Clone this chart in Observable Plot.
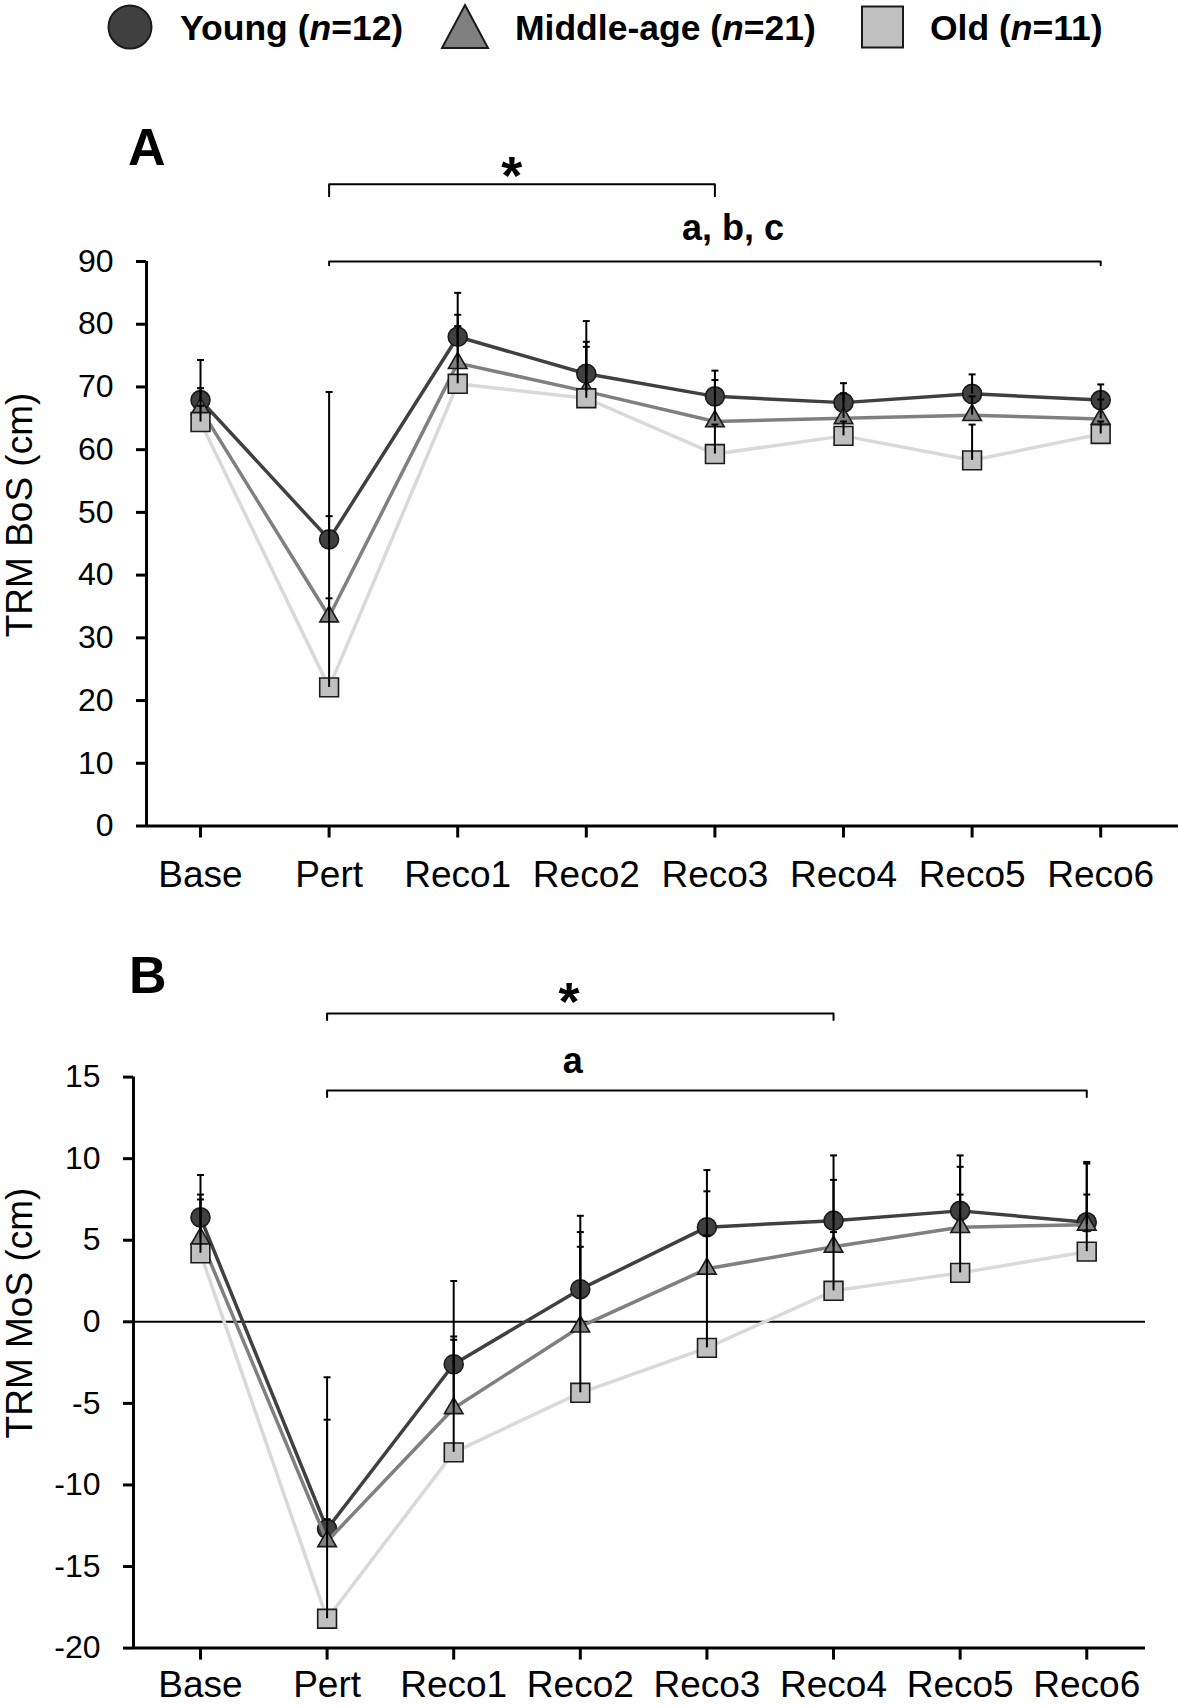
<!DOCTYPE html>
<html>
<head>
<meta charset="utf-8">
<script src="https://cdn.jsdelivr.net/npm/d3@7"></script>
<script src="https://cdn.jsdelivr.net/npm/@observablehq/plot@0.6"></script>
<style>
  body { margin: 0; background: #fff; }
  #wrap { position: relative; width: 1181px; height: 1705px; overflow: hidden; background: #fff;
          font-family: "Liberation Sans", Arial, sans-serif; }
  #wrap > svg { position: absolute; left: 0; }
</style>
</head>
<body>
<div id="wrap"></div>
<script>
// ---------------- DATA ----------------
const categories = ["Base", "Pert", "Reco1", "Reco2", "Reco3", "Reco4", "Reco5", "Reco6"];
const groupNames = ["Young", "Middle-age", "Old"];
const groupN = [12, 21, 11];

// Panel A: TRM BoS (cm) — means and mean + SD (upper error bar end)
const bosYoung    = [67.9, 45.7, 78.0, 72.1, 68.5, 67.5, 68.9, 67.9];
const bosMiddle   = [66.5, 33.4, 73.8, 69.3, 64.5, 65.0, 65.5, 64.9];
const bosOld      = [64.4, 22.1, 70.5, 68.2, 59.3, 62.2, 58.3, 62.5];
const bosYoungUp  = [74.3, 69.2, 85.0, 80.5, 72.6, 70.6, 72.0, 70.4];
const bosMiddleUp = [69.8, 49.4, 81.5, 77.2, 71.1, 69.0, 68.5, 68.0];
const bosOldUp    = [67.0, 36.3, 79.7, 76.4, 64.0, 64.5, 64.0, 64.5];
const bosTicks    = [0, 10, 20, 30, 40, 50, 60, 70, 80, 90];

// Panel B: TRM MoS (cm)
const mosYoung    = [6.4, -12.7, -2.6, 2.0, 5.8, 6.2, 6.8, 6.1];
const mosMiddle   = [5.1, -13.45, -5.3, -0.3, 3.25, 4.6, 5.8, 5.95];
const mosOld      = [4.2, -18.2, -8.0, -4.35, -1.6, 1.9, 3.0, 4.3];
const mosYoungUp  = [9.0, -3.4, 2.5, 6.5, 9.3, 10.2, 10.2, 9.8];
const mosMiddleUp = [7.8, -6.0, -0.9, 5.5, 8.0, 8.7, 9.5, 9.7];
const mosOldUp    = [7.5, -12.1, -1.1, 4.6, 5.3, 5.5, 7.8, 7.8];
const mosTicks    = [-20, -15, -10, -5, 0, 5, 10, 15];

// Significance brackets (x = category index, y = data value)
const bosBrackets = [
  {from: 1, to: 4, y: 102.3, drop: 1.9},
  {from: 1, to: 7, y: 90, drop: 0.6}
];
const bosNotes = [
  {text: "*", x: 2.42, y: 100.8, size: 54},
  {text: "a, b, c", x: 4.14, y: 93.4, size: 36}
];
const mosBrackets = [
  {from: 1, to: 5, y: 18.9, drop: 0.4},
  {from: 1, to: 7, y: 14.18, drop: 0.4}
];
const mosNotes = [
  {text: "*", x: 2.91, y: 18.47, size: 54},
  {text: "a", x: 2.94, y: 15.27, size: 36}
];

// ---------------- STYLE ----------------
const FONT = '"Liberation Sans", Arial, sans-serif';
const W = 1181;
const seriesStyle = [
  {symbol: "circle",   r: 9.5,  fill: "#404040", line: "#404040"},
  {symbol: "triangle", r: 6.9,  fill: "#808080", line: "#808080"},
  {symbol: "square",   r: 10.6, fill: "#c0c0c0", line: "#d9d9d9"}
];
const capSymbol = {draw(ctx) { ctx.moveTo(-3.5, 0); ctx.lineTo(3.5, 0); }};

function rowsFor(means, ups, gi) {
  return categories.map((c, i) => ({i, cat: c, group: groupNames[gi], mean: means[i], upper: ups[i]}));
}

function panel(cfg) {
  const marks = [];
  const allRows = [];
  marks.push(Plot.ruleY([cfg.yDomain[0]], {stroke: "black", strokeWidth: 3}));
  marks.push(Plot.ruleX([cfg.xDomain[0]], {stroke: "black", strokeWidth: 3}));
  if (cfg.zero) marks.push(Plot.ruleY([0], {stroke: "black", strokeWidth: 2}));
  marks.push(Plot.axisY({ticks: cfg.yTicks, tickFormat: d => String(d), tickSize: 10, tickPadding: 23,
    fontSize: 32, strokeWidth: 3, label: null}));
  marks.push(Plot.axisX({ticks: categories.map((c, i) => i), tickFormat: i => categories[i], tickSize: 12,
    tickPadding: cfg.xPad, fontSize: 37, strokeWidth: 3, label: null}));
  cfg.series.forEach((s, gi) => {
    const rows = rowsFor(s.means, s.ups, gi);
    allRows.push(...rows);
    const st = seriesStyle[gi];
    marks.push(Plot.line(rows, {x: "i", y: "mean", stroke: st.line, strokeWidth: 3.5}));
    marks.push(Plot.dot(rows, {x: "i", y: "mean", symbol: st.symbol, r: st.r, fill: st.fill,
      stroke: "#1a1a1a", strokeWidth: 1.6}));
  });
  marks.push(Plot.ruleX(allRows, {x: "i", y1: "mean", y2: "upper", stroke: "black", strokeWidth: 2}));
  marks.push(Plot.dot(allRows, {x: "i", y: "upper", symbol: capSymbol, r: 4, fill: "none",
    stroke: "black", strokeWidth: 2}));
  const brRows = [];
  cfg.brackets.forEach((b, k) => {
    brRows.push({id: k, x: b.from, y: b.y - b.drop}, {id: k, x: b.from, y: b.y},
                {id: k, x: b.to, y: b.y}, {id: k, x: b.to, y: b.y - b.drop});
  });
  marks.push(Plot.line(brRows, {x: "x", y: "y", z: "id", stroke: "black", strokeWidth: 2}));
  cfg.notes.forEach(n => {
    marks.push(Plot.text([n], {x: "x", y: "y", text: "text", fontSize: n.size, fontWeight: "bold",
      lineAnchor: "bottom", fill: "black"}));
  });
  const svg = Plot.plot({
    width: W, height: cfg.height,
    marginTop: cfg.marginTop, marginBottom: cfg.marginBottom,
    marginLeft: cfg.marginLeft, marginRight: cfg.marginRight,
    x: {type: "linear", domain: cfg.xDomain},
    y: {type: "linear", domain: cfg.yDomain},
    style: {background: "transparent", fontFamily: FONT, color: "black", overflow: "visible"},
    marks
  });
  svg.style.position = "absolute";
  svg.style.top = cfg.top + "px";
  svg.style.left = "0px";
  return svg;
}

const wrap = document.getElementById("wrap");

wrap.appendChild(panel({
  top: 60, height: 840.5, marginTop: 201, marginBottom: 75, marginLeft: 146, marginRight: 3,
  xDomain: [-0.42, 7.605], yDomain: [0, 90], yTicks: bosTicks, xPad: 23,
  series: [
    {means: bosYoung, ups: bosYoungUp},
    {means: bosMiddle, ups: bosMiddleUp},
    {means: bosOld, ups: bosOldUp}
  ],
  brackets: bosBrackets, notes: bosNotes, zero: false
}));

wrap.appendChild(panel({
  top: 900, height: 805, marginTop: 176.6, marginBottom: 57.4, marginLeft: 133, marginRight: 36,
  xDomain: [-0.529, 7.464], yDomain: [-20, 15], yTicks: mosTicks, xPad: 11,
  series: [
    {means: mosYoung, ups: mosYoungUp},
    {means: mosMiddle, ups: mosMiddleUp},
    {means: mosOld, ups: mosOldUp}
  ],
  brackets: mosBrackets, notes: mosNotes, zero: true
}));

// ---------------- OVERLAY: legend, panel letters, axis titles ----------------
const ov = d3.select(wrap).append("svg")
  .attr("width", W).attr("height", 1705)
  .style("top", "0px").style("pointer-events", "none")
  .style("font-family", FONT);

// legend
const lg = ov.append("g").attr("font-size", 35.5).attr("font-weight", "bold").attr("fill", "black");
lg.append("circle").attr("cx", 130).attr("cy", 27).attr("r", 21.5)
  .attr("fill", "#404040").attr("stroke", "#1a1a1a").attr("stroke-width", 2);
lg.append("path").attr("d", "M465,5 L488,48 L442,48 Z")
  .attr("fill", "#808080").attr("stroke", "#1a1a1a").attr("stroke-width", 2);
lg.append("rect").attr("x", 862).attr("y", 6.5).attr("width", 41).attr("height", 41)
  .attr("fill", "#c0c0c0").attr("stroke", "#1a1a1a").attr("stroke-width", 2);
const legendX = [180, 515, 930];
groupNames.forEach((g, k) => {
  const t = lg.append("text").attr("x", legendX[k]).attr("y", 40);
  t.append("tspan").text(g + " (");
  t.append("tspan").attr("font-style", "italic").text("n");
  t.append("tspan").text("=" + groupN[k] + ")");
});

// panel letters
ov.append("text").attr("x", 128).attr("y", 165).attr("font-size", 52).attr("font-weight", "bold").text("A");
ov.append("text").attr("x", 129).attr("y", 993).attr("font-size", 52).attr("font-weight", "bold").text("B");

// axis titles
ov.append("text").attr("transform", "translate(32,515) rotate(-90)").attr("text-anchor", "middle")
  .attr("font-size", 37).text("TRM BoS (cm)");
ov.append("text").attr("transform", "translate(32,1313) rotate(-90)").attr("text-anchor", "middle")
  .attr("font-size", 37).text("TRM MoS (cm)");
</script>
</body>
</html>
